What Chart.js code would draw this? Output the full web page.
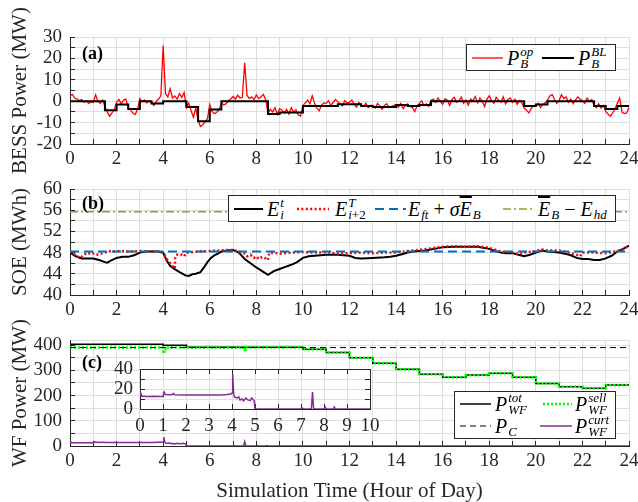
<!DOCTYPE html>
<html><head><meta charset="utf-8">
<script src="https://cdn.jsdelivr.net/npm/chart.js@4.4.0/dist/chart.umd.min.js"></script>
<style>
html,body{margin:0;padding:0;background:#fff;width:638px;height:502px;overflow:hidden;position:relative;}
canvas{position:absolute;left:0;top:0;}
.lg{position:absolute;background:#fff;border:1px solid #262626;box-sizing:border-box;font-family:"Liberation Serif","Times New Roman",serif;color:#000;}
.row{position:absolute;left:0;width:100%;}
.en{position:absolute;top:0;height:100%;display:flex;align-items:center;white-space:nowrap;}
.m{font-style:italic;font-size:20px;display:inline-flex;align-items:center;line-height:20px;}
.ss{display:inline-flex;flex-direction:column;font-size:13px;line-height:12px;margin-left:1px;}
.up{font-style:normal;}
.ov{text-decoration:overline;}
.pl{position:absolute;font-family:"Liberation Serif","Times New Roman",serif;font-weight:bold;font-size:18px;line-height:18px;color:#000;}
</style>
</head><body>
<canvas id="ca" width="638" height="502"></canvas>
<canvas id="cb" width="638" height="502"></canvas>
<canvas id="cc" width="638" height="502"></canvas>
<canvas id="ci" width="638" height="502"></canvas>

<div class="pl" style="left:82px;top:44px;">(a)</div>
<div class="pl" style="left:82px;top:194px;">(b)</div>
<div class="pl" style="left:82px;top:353px;">(c)</div>

<div class="lg" style="left:466px;top:44px;width:150px;height:27px;">
  <div class="row" style="top:0;height:25px;">
    <div class="en" style="left:5px;"><svg width="31" height="6"><line x1="0" y1="3" x2="31" y2="3" stroke="#ff0000" stroke-width="1.3"/></svg></div>
    <div class="en" style="left:40px;"><span class="m">P<span class="ss"><span>op</span><span>B</span></span></span></div>
    <div class="en" style="left:75px;"><svg width="32" height="6"><line x1="0" y1="3" x2="32" y2="3" stroke="#000" stroke-width="2"/></svg></div>
    <div class="en" style="left:111px;"><span class="m">P<span class="ss"><span>BL</span><span>B</span></span></span></div>
  </div>
</div>

<div class="lg" style="left:228px;top:195px;width:388px;height:27px;">
  <div class="row" style="top:0;height:25px;">
    <div class="en" style="left:5px;"><svg width="29" height="6"><line x1="0" y1="3" x2="29" y2="3" stroke="#000" stroke-width="2"/></svg></div>
    <div class="en" style="left:38px;"><span class="m">E<span class="ss"><span>t</span><span>i</span></span></span></div>
    <div class="en" style="left:68px;"><svg width="32" height="6"><line x1="0" y1="3" x2="32" y2="3" stroke="#ff0000" stroke-width="2.5" stroke-dasharray="2 2.4"/></svg></div>
    <div class="en" style="left:106px;"><span class="m">E<span class="ss"><span>T</span><span>i<span class="up">+2</span></span></span></span></div>
    <div class="en" style="left:146px;"><svg width="31" height="6"><line x1="0" y1="3" x2="31" y2="3" stroke="#0072bd" stroke-width="2" stroke-dasharray="9 5"/></svg></div>
    <div class="en" style="left:179px;"><span class="m">E<span class="ss"><span>&nbsp;</span><span>ft</span></span><span class="up">&nbsp;+&nbsp;</span>σ<span class="ov">E</span><span class="ss"><span>&nbsp;</span><span>B</span></span></span></div>
    <div class="en" style="left:274px;"><svg width="31" height="6"><line x1="0" y1="3" x2="31" y2="3" stroke="#77ac30" stroke-width="1.5" stroke-dasharray="8 3 2 3"/></svg></div>
    <div class="en" style="left:309px;"><span class="m"><span class="ov">E</span><span class="ss"><span>&nbsp;</span><span>B</span></span><span class="up">&nbsp;−&nbsp;</span>E<span class="ss"><span>&nbsp;</span><span>hd</span></span></span></div>
  </div>
</div>

<div class="lg" style="left:454px;top:391px;width:162px;height:48px;">
  <div class="row" style="top:1px;height:22px;">
    <div class="en" style="left:5px;"><svg width="31" height="6"><line x1="0" y1="3" x2="31" y2="3" stroke="#000" stroke-width="1.5"/></svg></div>
    <div class="en" style="left:40px;"><span class="m">P<span class="ss"><span>tot</span><span>WF</span></span></span></div>
    <div class="en" style="left:88px;"><svg width="29" height="6"><line x1="0" y1="3" x2="29" y2="3" stroke="#00ff00" stroke-width="2.5" stroke-dasharray="2 2"/></svg></div>
    <div class="en" style="left:120px;"><span class="m">P<span class="ss"><span>sell</span><span>WF</span></span></span></div>
  </div>
  <div class="row" style="top:23px;height:22px;">
    <div class="en" style="left:5px;"><svg width="31" height="6"><line x1="0" y1="3" x2="31" y2="3" stroke="#000" stroke-width="1" stroke-dasharray="6 4"/></svg></div>
    <div class="en" style="left:40px;"><span class="m">P<span class="ss"><span>&nbsp;</span><span>C</span></span></span></div>
    <div class="en" style="left:85px;"><svg width="32" height="6"><line x1="0" y1="3" x2="32" y2="3" stroke="#7e2f8e" stroke-width="1.5"/></svg></div>
    <div class="en" style="left:120px;"><span class="m">P<span class="ss"><span>curt</span><span>WF</span></span></span></div>
  </div>
</div>

<script>
// ---------------- DATA ----------------
// (a) BESS operating power, sampled every 0.1 h from 0 to 24 h
const opStepHours = 0.1;
const batteryOpPower = [
  2.5, 3.2, 1.5, 1.0, 0.3, 0.8, -0.5, 0.2, -1.0, -0.3, -0.6, 3.0, -0.2, -1.0, 0.5,
  -2.5, -5.0, -7.0, -5.5, -4.0,
  -0.5, 0.8, -1.2, 0.5, 1.0,
  -3.0, -4.2, -5.5, -6.2, -3.8,
  1.2, -0.3, 0.6, -0.8, 0.2,
  -0.8, -2.0, -0.2, 1.0, 2.5,
  26.0, 3.5, 2.0, 5.8, 1.5, 2.5, 1.0, 3.5, 1.8, 4.0,
  -3.0, -0.8, -4.5, -7.5, -3.2,
  -9.0, -11.8, -11.0, -9.5, -8.2,
  -1.5, -4.8, -5.8, -5.2, -4.0,
  -0.8, -1.8, -1.2, 0.2, 1.0, 2.2, 1.0, 2.8, 1.5, 1.8, 18.0, 2.8, 1.2, 2.0, 0.8, 3.0, 1.2, 2.0, 3.2, 0.8,
  -5.5, -3.8, -5.0, -3.0, -6.2,
  -3.5, -4.2, -5.5, -3.8, -6.0, -3.0, -5.2, -4.0, -6.5, -7.0,
  -2.0, -0.8, 0.5, -1.2, 2.5, -1.0, -3.2, -4.5, -1.8, -0.8,
  -1.0, 0.2, -2.0, -0.5, 0.8, -0.2, -1.2, -2.2, 0.3, -0.8,
  -0.5, 0.5, -1.5, -2.8, -0.6, -1.8, -2.5, -1.0, -3.0, -2.0,
  -2.0, -3.2, -1.0, -2.2, -3.8, -2.0, -1.2, -3.0, -2.5, -2.0,
  -1.5, -2.8, -1.0, -3.5, -2.0, -1.2, -2.5, -3.0, -4.8, -2.2,
  -1.0, 0.2, -2.0, -1.2, -2.5, 0.5, 1.0, -0.5, 1.5, 0.0,
  -1.5, 1.2, 0.5, -2.0, 0.8, 1.8, -0.5, 0.2, 2.0, -1.0,
  0.5, -1.8, 1.0, 0.2, 2.2, -0.8, 1.5, 0.0, -2.5, 1.0,
  2.5, 0.3, -1.0, 1.8, 0.5, -0.5, 2.0, -1.2, 0.8, 1.5,
  -0.5, 1.0, -1.5, 0.3, -0.8, -3.2, -4.2, -5.5, -3.5, -2.2,
  -2.0, -1.0, -3.0, -1.5, -0.8, 0.5, 2.5, 3.2, 0.8, -1.0,
  0.3, 3.0, 1.2, 2.0, -0.5, 1.0, -1.2, 0.5, 2.0, 1.0,
  0.2, -1.0, 1.5, 0.0, 0.8, -2.0, -3.0, -1.2, -3.2, -2.0,
  -4.8, -6.0, -7.0, -5.5, -3.5, -1.0, 1.5, -5.2, -5.8, -5.5, -3.0
];
// (a) BESS baseline power (step, value held from each start hour)
const baselineHours  = [0, 1.5, 2, 2.5, 3, 3.5, 4, 5, 5.5, 6, 6.5, 8.5, 9, 10, 11.5, 12.5, 13, 14, 14.5, 15, 15.5, 19.5, 20, 20.5, 22.5, 23, 23.5, 24];
const baselinePower  = [0, -4.2, -1.5, -3.7, 0, -1.1, 0, -2.7, -9.4, -3.9, 0, -6.0, -5.3, -2.2, -1.4, -2.3, -2.7, -1.8, -2.3, -1.8, 0, -2.2, -1.6, 0, -2.3, -3.7, -2.2, -2.2];

// (b) state of energy [hour, MWh]
const soeActual = [
  [0,48.0],[0.25,47.3],[0.5,46.9],[0.75,46.9],[1.0,46.9],[1.25,46.6],[1.5,46.2],[1.6,46.1],[1.75,46.5],[2.0,47.0],
  [2.25,47.2],[2.5,47.2],[2.75,47.5],[3.0,48.0],[3.25,48.2],[3.5,48.2],[3.75,48.2],[4.0,48.0],[4.15,46.5],[4.3,45.5],
  [4.45,45.0],[4.6,44.6],[4.75,44.2],[4.95,43.7],[5.1,43.6],[5.25,43.9],[5.4,44.0],[5.6,44.3],[5.75,45.2],[5.9,46.2],
  [6.05,47.0],[6.2,47.5],[6.35,47.8],[6.5,48.2],[6.75,48.4],[7.0,48.5],[7.25,48.0],[7.5,46.8],[7.75,46.0],[8.0,45.2],
  [8.25,44.5],[8.5,43.8],[8.75,44.5],[9.0,44.9],[9.25,45.3],[9.5,45.7],[9.75,46.2],[10.0,47.0],[10.25,47.3],[10.5,47.4],
  [11.0,47.6],[11.5,47.6],[12.0,47.4],[12.25,47.0],[12.5,46.9],[13.0,47.0],[13.5,47.1],[13.75,47.2],[14.0,47.4],[14.25,47.7],
  [14.5,48.0],[14.75,48.2],[15.0,48.3],[15.25,48.4],[15.5,48.6],[15.75,48.8],[16.0,49.0],[16.5,49.1],[17.0,49.1],[17.5,49.1],
  [18.0,48.7],[18.25,48.3],[18.5,48.0],[18.75,47.9],[19.0,47.9],[19.25,47.6],[19.5,47.3],[19.75,47.6],[20.0,48.0],[20.25,48.4],
  [20.5,48.2],[20.75,48.1],[21.0,48.0],[21.25,47.8],[21.5,47.5],[21.75,47.0],[22.0,46.8],[22.25,46.8],[22.5,46.6],[22.75,46.6],
  [23.0,46.9],[23.25,47.4],[23.5,48.2],[23.75,48.7],[24.0,49.3]
];
const soeTarget = [
  [0,48.2],[0.15,47.8],[0.3,47.3],[0.45,47.0],[0.6,47.6],[0.75,48.0],[0.9,47.7],[1.05,47.9],[1.2,47.6],[1.35,47.8],
  [1.5,48.0],[1.65,48.3],[1.8,48.2],[2.0,48.3],[2.5,48.2],[3.0,48.3],[3.5,48.2],[3.8,48.2],[4.0,48.0],[4.1,47.2],
  [4.2,46.5],[4.3,46.0],[4.4,45.5],[4.5,45.0],[4.52,47.3],[4.6,47.6],[4.7,47.5],[4.8,47.6],[4.9,47.3],[5.0,48.0],
  [5.5,48.2],[6.0,48.3],[6.5,48.4],[6.75,48.5],[7.0,48.5],[7.25,48.2],[7.4,48.0],[7.5,47.8],[7.6,47.3],[7.75,47.6],
  [7.9,47.0],[8.0,47.3],[8.1,46.8],[8.25,47.2],[8.4,46.9],[8.5,46.6],[8.55,47.9],[8.75,48.0],[9.0,47.8],[9.5,48.0],
  [10,48.1],[10.5,48.0],[11,48.1],[11.5,47.8],[12,47.9],[12.5,48.0],[13,47.9],[13.5,48.0],[14,48.0],[14.5,48.3],
  [15,48.5],[15.5,48.8],[16,49.1],[16.5,49.2],[17,49.1],[17.5,49.2],[18,48.9],[18.5,48.2],[19,48.0],[19.25,47.7],
  [19.5,48.0],[20,48.3],[20.25,48.6],[20.5,48.4],[21,48.4],[21.5,47.9],[21.75,47.6],[21.9,47.3],[22.0,48.0],[22.5,48.0],
  [23,47.9],[23.5,48.3],[23.75,48.6],[24,49.3]
];
const soeFinalTarget = 48.2;   // E_ft + sigma*E_B
const soeUpperLimit  = 55.7;   // E_B - E_hd

// (c) wind farm power
const totalHours  = [0, 4, 5, 10, 11, 12, 13, 14, 15, 16, 17, 18, 19, 20, 21, 22, 23, 24];
const totalPower  = [403, 399, 391, 383, 370, 350, 328, 304, 284, 272, 281, 288, 272, 248, 235, 229, 242, 242];
const sellHours   = [0, 4.0, 4.05, 4.1, 7.45, 7.5, 7.55, 10, 11, 12, 13, 14, 15, 16, 17, 18, 19, 20, 21, 22, 23, 24];
const sellPower   = [390, 368, 382, 390, 381, 380, 391, 383, 370, 350, 328, 304, 284, 272, 281, 288, 272, 248, 235, 229, 242, 242];
const capacityLimit = 390;
const curtailment = [
  [0,12.5],[0.03,16],[0.08,13],[0.3,12.5],[0.6,12.8],[1.0,12.5],[1.02,15.5],[1.05,17],[1.1,14.5],[1.4,14.2],
  [1.45,15.5],[1.5,14.2],[2,14],[2.5,14],[3,14],[3.5,14],[3.8,14.5],[3.95,15],[4.0,16],[4.03,35],
  [4.07,16],[4.1,12],[4.2,11],[4.3,12],[4.35,9],[4.45,10],[4.5,8],[4.6,11],[4.7,9],[4.8,8.5],
  [4.85,11],[4.9,10],[4.97,8],[5.0,0],[7.0,0],[7.05,1],[7.1,0],[7.45,0],[7.5,17],[7.55,0],
  [8.0,0],[8.05,2],[8.1,0],[8.4,0],[8.45,2],[8.5,0],[24,0]
];

// axis tick labels
const hourTicks = [0, 2, 4, 6, 8, 10, 12, 14, 16, 18, 20, 22, 24];
const bessTicks = [-20, -10, 0, 10, 20, 30];
const soeTicks = [40, 44, 48, 52, 56, 60];
const wfTicks = [0, 100, 200, 300, 400];
const insetXTicks = [0, 1, 2, 3, 4, 5, 6, 7, 8, 9, 10];
const insetYTicks = [0, 20, 40];

// ---------------- DRAWING ----------------
const FONT = '"Liberation Serif", "Times New Roman", serif';
const AX = '#262626';
const GRID = '#dedede';
Chart.defaults.font.family = FONT;
Chart.defaults.color = AX;

const pairs = (arr) => arr.map(p => ({x: p[0], y: p[1]}));
const zip = (xs, ys) => xs.map((x, i) => ({x, y: ys[i]}));
const flat = (v) => [{x: 0, y: v}, {x: 24, y: v}];

function align(p) { return Math.round(p - 0.5) + 0.5; }

function decoPlugin(cfg) {
  return {
    id: 'deco',
    beforeDraw(chart) {
      if (!cfg.white) return;
      const a = chart.chartArea, c = chart.ctx;
      c.save(); c.fillStyle = '#fff';
      c.fillRect(a.left, a.top, a.right - a.left, a.bottom - a.top);
      c.restore();
    },
    beforeDatasetsDraw(chart) {
      const a = chart.chartArea, c = chart.ctx, xs = chart.scales.x, ys = chart.scales.y;
      c.save(); c.strokeStyle = AX; c.lineWidth = 1; c.beginPath();
      const L = 5;
      xs.ticks.forEach(t => {
        if (!cfg.xTick(t.value)) return;
        const x = align(xs.getPixelForValue(t.value));
        c.moveTo(x, a.bottom); c.lineTo(x, a.bottom - L);
        if (cfg.box) { c.moveTo(x, a.top); c.lineTo(x, a.top + L); }
      });
      ys.ticks.forEach(t => {
        if (!cfg.yTick(t.value)) return;
        const y = align(ys.getPixelForValue(t.value));
        c.moveTo(a.left, y); c.lineTo(a.left + L, y);
        if (cfg.box) { c.moveTo(a.right, y); c.lineTo(a.right - L, y); }
      });
      if (cfg.box) {
        c.moveTo(a.left, align(a.top)); c.lineTo(a.right, align(a.top));
        c.moveTo(align(a.right), a.top); c.lineTo(align(a.right), a.bottom);
      }
      c.stroke(); c.restore();
    }
  };
}

function makeChart(id, cfg) {
  return new Chart(document.getElementById(id), {
    type: 'line',
    data: {datasets: cfg.datasets},
    options: {
      responsive: false, animation: false, devicePixelRatio: 1, events: [],
      layout: {padding: {left: cfg.padL, right: 638 - cfg.right, top: cfg.top, bottom: 502 - cfg.bottom - cfg.xh}},
      plugins: {legend: {display: false}, tooltip: {enabled: false}},
      elements: {point: {radius: 0}, line: {tension: 0}},
      scales: {
        x: {
          type: 'linear', min: cfg.xmin, max: cfg.xmax,
          afterFit(s) { s.height = cfg.xh; s.paddingLeft = 0; s.paddingRight = 0; },
          afterBuildTicks(s) { s.ticks = cfg.xGrid.map(v => ({value: v})); },
          ticks: {autoSkip: false, maxRotation: 0, padding: cfg.xPad, font: {size: 19},
                  callback: v => cfg.xLabels.includes(v) ? String(v) : ''},
          grid: {color: GRID, drawTicks: false, lineWidth: 1},
          border: {display: true, color: AX, width: 1},
          title: cfg.xTitle ? {display: true, text: cfg.xTitle, font: {size: 21, lineHeight: 1}, padding: {top: 0, bottom: 0}} : {display: false}
        },
        y: {
          type: 'linear', min: cfg.ymin, max: cfg.ymax,
          afterFit(s) { s.width = cfg.yw; s.paddingTop = 0; s.paddingBottom = 0; },
          afterBuildTicks(s) { s.ticks = cfg.yGrid.map(v => ({value: v})); },
          ticks: {autoSkip: false, padding: cfg.yPad, font: {size: 19},
                  callback: v => cfg.yLabels.includes(v) ? String(v) : ''},
          grid: {color: GRID, drawTicks: false, lineWidth: 1},
          border: {display: true, color: AX, width: 1},
          title: cfg.yTitle ? {display: true, text: cfg.yTitle, font: {size: 21, lineHeight: 1}, padding: {top: 9.5, bottom: 0}} : {display: false}
        }
      }
    },
    plugins: [decoPlugin(cfg)]
  });
}

const range = (a, b, s) => { const r = []; for (let v = a; v <= b + 1e-9; v += s) r.push(Math.round(v * 100) / 100); return r; };
const hourGrid = range(0, 24, 1);

// (a)
makeChart('ca', {
  padL: 0, yw: 70, right: 629, top: 37, bottom: 144, xh: 30, xPad: 4, yPad: 8,
  xmin: 0, xmax: 24, ymin: -20, ymax: 30,
  xGrid: hourGrid, xLabels: hourTicks, yGrid: range(-20, 30, 5), yLabels: bessTicks,
  yTitle: 'BESS Power (MW)',
  xTick: () => true, yTick: () => true,
  datasets: [
    {data: zip(baselineHours, baselinePower), stepped: 'before', borderColor: '#000', borderWidth: 2, order: 0},
    {data: batteryOpPower.map((v, i) => ({x: i * opStepHours, y: v})), borderColor: '#ff0000', borderWidth: 1.3, order: 1}
  ]
});

// (b)
makeChart('cb', {
  padL: 0, yw: 70, right: 629, top: 189, bottom: 295, xh: 30, xPad: 4, yPad: 8,
  xmin: 0, xmax: 24, ymin: 40, ymax: 60,
  xGrid: hourGrid, xLabels: hourTicks, yGrid: range(40, 60, 2), yLabels: soeTicks,
  yTitle: 'SOE (MWh)',
  xTick: () => true, yTick: () => true,
  datasets: [
    {data: flat(soeUpperLimit), borderColor: '#77ac30', borderWidth: 1.5, borderDash: [8, 3, 2, 3], order: 0},
    {data: flat(soeFinalTarget), borderColor: '#0072bd', borderWidth: 2, borderDash: [9, 5], order: 1},
    {data: pairs(soeTarget), borderColor: '#ff0000', borderWidth: 2.5, borderDash: [2, 2.4], order: 2},
    {data: pairs(soeActual), borderColor: '#000', borderWidth: 2, order: 3}
  ]
});

// (c)
makeChart('cc', {
  padL: 0, yw: 70, right: 629, top: 340, bottom: 446, xh: 56, xPad: 4, yPad: 8,
  xmin: 0, xmax: 24, ymin: 0, ymax: 420,
  xGrid: hourGrid, xLabels: hourTicks, yGrid: range(0, 400, 50).concat([420]), yLabels: wfTicks,
  yTitle: 'WF Power (MW)', xTitle: 'Simulation Time (Hour of Day)',
  xTick: () => true, yTick: v => v <= 400,
  datasets: [
    {data: pairs(curtailment), borderColor: '#7e2f8e', borderWidth: 1.5, order: 0},
    {data: flat(capacityLimit), borderColor: '#000', borderWidth: 1, borderDash: [6, 4], order: 1},
    {data: zip(sellHours, sellPower), stepped: 'before', borderColor: '#00ff00', borderWidth: 2.5, borderDash: [2, 2], order: 2},
    {data: zip(totalHours, totalPower), stepped: 'before', borderColor: '#000', borderWidth: 1.5, order: 3}
  ]
});

// inset
makeChart('ci', {
  padL: 90, yw: 50, right: 370, top: 369, bottom: 409, xh: 30, xPad: 6, yPad: 7, white: true, box: true,
  xmin: 0, xmax: 10, ymin: 0, ymax: 40,
  xGrid: range(0, 10, 1), xLabels: insetXTicks, yGrid: range(0, 40, 10), yLabels: insetYTicks,
  xTick: () => true, yTick: () => true,
  datasets: [
    {data: pairs(curtailment), borderColor: '#7e2f8e', borderWidth: 1.5}
  ]
});
</script>
</body></html>
